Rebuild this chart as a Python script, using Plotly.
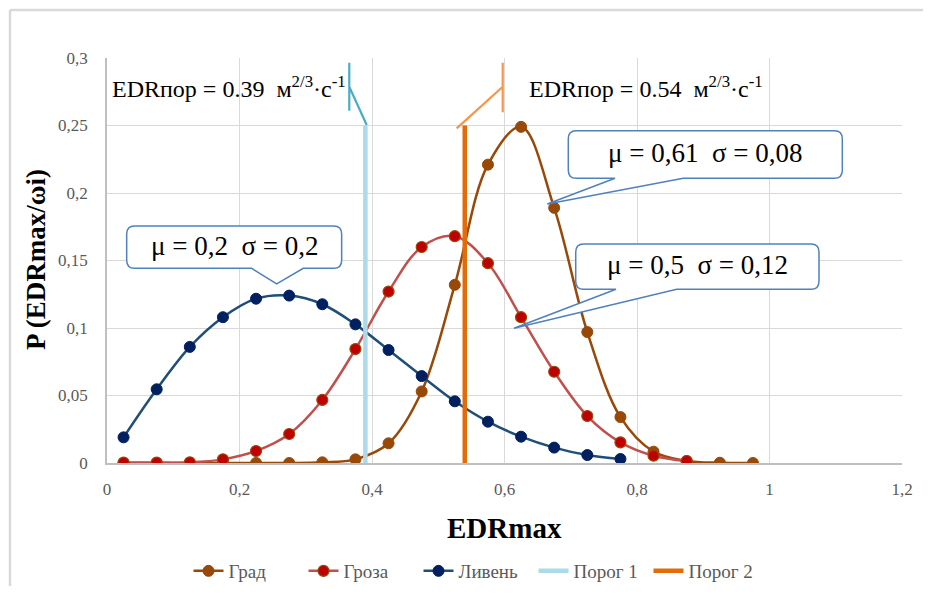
import plotly.graph_objects as go

# ---- data ----
x_grad = [0.025, 0.075, 0.125, 0.175, 0.225, 0.275, 0.325, 0.375, 0.425, 0.475,
          0.525, 0.575, 0.625, 0.675, 0.725, 0.775, 0.825, 0.875, 0.925, 0.975]
y_grad = [0.0, 0.0, 0.0, 0.0, 0.0, 0.0, 0.0005, 0.0027, 0.0146, 0.053,
          0.132, 0.221, 0.249, 0.189, 0.097, 0.034, 0.0084, 0.0015, 0.0002, 0.0]

x_groza = [0.025, 0.075, 0.125, 0.175, 0.225, 0.275, 0.325, 0.375, 0.425, 0.475,
           0.525, 0.575, 0.625, 0.675, 0.725, 0.775, 0.825, 0.875]
y_groza = [0.0003, 0.0003, 0.0005, 0.0027, 0.0089, 0.0215, 0.0467, 0.0844, 0.127, 0.160,
           0.168, 0.148, 0.108, 0.0676, 0.0348, 0.0153, 0.0054, 0.0015]

x_liven = [0.025, 0.075, 0.125, 0.175, 0.225, 0.275, 0.325, 0.375, 0.425, 0.475,
           0.525, 0.575, 0.625, 0.675, 0.725, 0.775]
y_liven = [0.019, 0.0546, 0.086, 0.108, 0.1217, 0.124, 0.1176, 0.1027, 0.0837, 0.0644,
           0.0457, 0.0306, 0.0195, 0.0114, 0.0059, 0.003]

porog1_x = [0.39, 0.39]
porog2_x = [0.54, 0.54]
porog_y = [0.0, 0.25]

series_names = ["Град", "Гроза", "Ливень", "Порог 1", "Порог 2"]
thr_labels = ["EDRпор = 0.39  м<sup>2/3</sup>·с<sup>-1</sup>",
              "EDRпор = 0.54  м<sup>2/3</sup>·с<sup>-1</sup>"]
callout_texts = ["μ = 0,2  σ = 0,2", "μ = 0,61  σ = 0,08", "μ = 0,5  σ = 0,12"]

SERIF = "Liberation Serif"
GRAY = "#595959"

# page has an 8px body margin; plot area is placed at absolute x 107..902, y 58..463
OFF = 8
W, H = 931 - 2 * OFF, 594 - 2 * OFF
L, T = 107 - OFF, 58 - OFF
R = W - (902 - OFF)
B = H - (463 - OFF)


def px(ax):
    return (ax - 107) / 795.0


def py(ay):
    return (463 - ay) / 405.0


fig = go.Figure()
fig.add_trace(go.Scatter(x=x_grad, y=y_grad, name=series_names[0], mode="lines+markers",
                         line=dict(color="#984807", width=2.5, shape="spline", smoothing=1),
                         marker=dict(size=11, color="#984807", line=dict(color="#984807", width=1))))
fig.add_trace(go.Scatter(x=x_groza, y=y_groza, name=series_names[1], mode="lines+markers",
                         line=dict(color="#C0504D", width=2.5, shape="spline", smoothing=1),
                         marker=dict(size=11, color="#C00000", line=dict(color="#984807", width=1.2))))
fig.add_trace(go.Scatter(x=x_liven, y=y_liven, name=series_names[2], mode="lines+markers",
                         line=dict(color="#1F4E79", width=2.5, shape="spline", smoothing=1),
                         marker=dict(size=11, color="#002060", line=dict(color="#002060", width=1))))
fig.add_trace(go.Scatter(x=porog1_x, y=porog_y, name=series_names[3], mode="lines",
                         line=dict(color="#ADDAE8", width=4.5)))
fig.add_trace(go.Scatter(x=porog2_x, y=porog_y, name=series_names[4], mode="lines",
                         line=dict(color="#E36C09", width=4.5)))

shapes = []
# chart outer border (top and left visible)
shapes.append(dict(type="line", xref="paper", yref="paper", x0=px(10), x1=px(940), y0=py(10), y1=py(10),
                   line=dict(color="#D9D9D9", width=2.5)))
shapes.append(dict(type="line", xref="paper", yref="paper", x0=px(10), x1=px(10), y0=py(600), y1=py(10),
                   line=dict(color="#D9D9D9", width=2.5)))

# threshold label leader lines
shapes.append(dict(type="path", xref="x", yref="y",
                   path="M 0.3657,0.2965 L 0.3657,0.261 M 0.3657,0.2787 L 0.392,0.2504",
                   line=dict(color="#4BACC6", width=2.2)))
shapes.append(dict(type="path", xref="x", yref="y",
                   path="M 0.5973,0.2965 L 0.5973,0.2598 M 0.5973,0.2787 L 0.5278,0.2479",
                   line=dict(color="#F79646", width=2.2)))

# callouts: (x0, x1, ybottom, ytop, base0, base1, tipx, tipy)
callouts = [
    (0.0297, 0.3542, 0.1442, 0.1756, 0.2184, 0.2963, 0.2561, 0.1326),
    (0.6963, 1.1099, 0.2109, 0.2461, 0.7668, 0.8699, 0.6646, 0.1919),
    (0.7075, 1.0747, 0.1287, 0.1622, 0.7683, 0.8599, 0.6143, 0.0998),
]
rx, ry = 0.012, 0.006
annotations = []
for (x0, x1, y0, y1, b0, b1, tx, ty), txt in zip(callouts, callout_texts):
    p = (f"M {x0+rx},{y1} L {x1-rx},{y1} Q {x1},{y1} {x1},{y1-ry} L {x1},{y0+ry} "
         f"Q {x1},{y0} {x1-rx},{y0} L {b1},{y0} L {tx},{ty} L {b0},{y0} L {x0+rx},{y0} "
         f"Q {x0},{y0} {x0},{y0+ry} L {x0},{y1-ry} Q {x0},{y1} {x0+rx},{y1} Z")
    shapes.append(dict(type="path", xref="x", yref="y", path=p, fillcolor="white",
                       line=dict(color="#4F81BD", width=1.5), layer="above"))
    annotations.append(dict(x=(x0 + x1) / 2, y=(y0 + y1) / 2 + 0.001, xref="x", yref="y", text=txt,
                            xanchor="center", yanchor="middle",
                            showarrow=False, font=dict(family=SERIF, size=27, color="black")))

annotations.append(dict(x=0.1834, y=0.2785, xref="x", yref="y", text=thr_labels[0], showarrow=False,
                        xanchor="center", yanchor="middle",
                        font=dict(family=SERIF, size=24, color="black")))
annotations.append(dict(x=0.8136, y=0.2785, xref="x", yref="y", text=thr_labels[1], showarrow=False,
                        xanchor="center", yanchor="middle",
                        font=dict(family=SERIF, size=24, color="black")))

# axis titles
annotations.append(dict(x=px(504), y=py(528), xref="paper", yref="paper", text="<b>EDRmax</b>",
                        xanchor="center", yanchor="middle",
                        showarrow=False, font=dict(family=SERIF, size=29, color="black")))
annotations.append(dict(x=px(36), y=py(260), xref="paper", yref="paper", text="<b>P (EDRmax/ωi)</b>",
                        xanchor="center", yanchor="middle",
                        textangle=-90, showarrow=False, font=dict(family=SERIF, size=27, color="black")))

fig.update_layout(
    width=W, height=H,
    margin=dict(l=L, r=R, t=T, b=B, pad=0, autoexpand=False),
    paper_bgcolor="white", plot_bgcolor="white",
    separators=", ",
    shapes=shapes, annotations=annotations,
    showlegend=True,
    legend=dict(orientation="h", x=px(476), xanchor="center", y=py(571),
                yanchor="middle", entrywidth=70, entrywidthmode="pixels",
                font=dict(family=SERIF, size=19, color=GRAY)),
    xaxis=dict(range=[0, 1.2], dtick=0.2, tick0=0, showgrid=True, gridcolor="#D9D9D9", gridwidth=1,
               showline=True, linecolor="#BFBFBF", linewidth=1.5, zeroline=False,
               tickfont=dict(family=SERIF, size=17, color=GRAY), ticklabelstandoff=10),
    yaxis=dict(range=[0, 0.3], dtick=0.05, tick0=0, showgrid=True, gridcolor="#D9D9D9", gridwidth=1,
               showline=True, linecolor="#BFBFBF", linewidth=1.5, zeroline=False,
               tickfont=dict(family=SERIF, size=17, color=GRAY), ticklabelstandoff=14),
)

fig.write_html("out.html")
